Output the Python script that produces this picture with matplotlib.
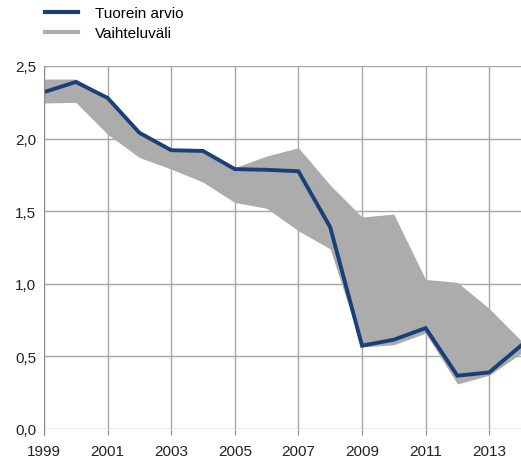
import numpy as np
import matplotlib.pyplot as plt
from matplotlib.lines import Line2D
from matplotlib.ticker import FuncFormatter, MultipleLocator

plt.rcParams['font.family'] = ['Liberation Sans', 'DejaVu Sans']

years = [1999, 2000, 2001, 2002, 2003, 2004, 2005, 2006, 2007, 2008,
         2009, 2010, 2011, 2012, 2013, 2014]
latest = [2.32, 2.39, 2.28, 2.04, 1.92, 1.915, 1.79, 1.785, 1.775, 1.39,
          0.574, 0.615, 0.695, 0.367, 0.39, 0.574]
band_high = [2.41, 2.41, 2.29, 2.05, 1.93, 1.925, 1.80, 1.88, 1.937, 1.68,
             1.46, 1.48, 1.03, 1.01, 0.83, 0.61]
band_low = [2.245, 2.25, 2.03, 1.87, 1.79, 1.70, 1.56, 1.52, 1.365, 1.24,
            0.565, 0.58, 0.66, 0.31, 0.37, 0.52]
xtick_years = [1999, 2001, 2003, 2005, 2007, 2009, 2011, 2013]

line_color = '#1a4079'
band_color = '#acacac'
grid_color = '#a6a6a6'

fig = plt.figure(figsize=(5.21, 4.64), dpi=100)
ax = fig.add_axes([44 / 521, 1 - 430 / 464, 1 - 44 / 521, (430 - 67) / 464])

ax.fill_between(years, band_low, band_high, color=band_color, lw=0, zorder=2)
ax.plot(years, latest, color=line_color, lw=2.8, zorder=3, solid_joinstyle='miter')

ax.set_xlim(1999, 2014)
ax.set_ylim(0, 2.5)
ax.set_xticks(xtick_years)
ax.yaxis.set_major_locator(MultipleLocator(0.5))
ax.yaxis.set_major_formatter(FuncFormatter(lambda v, p: f'{v:.1f}'.replace('.', ',')))

ax.grid(True, color=grid_color, lw=1, zorder=0)
ax.set_axisbelow(True)
for side in ['top', 'right', 'bottom']:
    ax.spines[side].set_visible(False)
ax.spines['left'].set_color('#8c8c8c')
ax.spines['left'].set_zorder(4)
ax.spines['left'].set_bounds(-0.04, 2.5)
ax.tick_params(axis='x', length=4.5, color='#8c8c8c', labelsize=11,
               labelcolor='#222222', pad=6)
ax.tick_params(axis='y', length=0, labelsize=11, labelcolor='#222222', pad=5.5)

handles = [Line2D([0], [0], color=line_color, lw=3),
           Line2D([0], [0], color=band_color, lw=3)]
fig.legend(handles=handles, labels=['Tuorein arvio', 'Vaihteluväli'],
           loc='upper left', bbox_to_anchor=(45 / 521, 1 - 7 / 464),
           borderaxespad=0, borderpad=0,
           frameon=False, fontsize=11, handlelength=2.15,
           handletextpad=1.15, labelspacing=0.42)

fig.savefig('out.png', dpi=100)
